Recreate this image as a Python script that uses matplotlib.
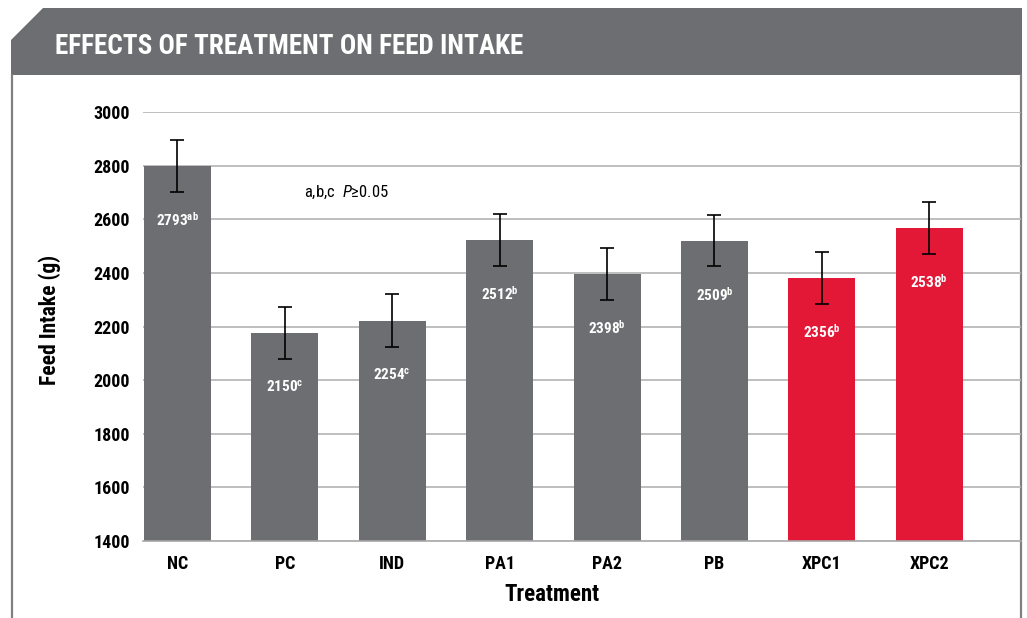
# Feed intake by treatment - bar chart with error bars
import matplotlib
matplotlib.use('Agg')
import matplotlib.pyplot as plt
from matplotlib import font_manager as fm
from matplotlib.patches import Polygon

# data
treatments = ['NC', 'PC', 'IND', 'PA1', 'PA2', 'PB', 'XPC1', 'XPC2']
intake = [2800, 2174, 2222, 2522, 2395, 2520, 2380, 2566]
err = [97, 97, 99, 96, 96, 96, 97, 97]
label_num = ['2793', '2150', '2254', '2512', '2398', '2509', '2356', '2538']
label_sup = ['ab', 'c', 'c', 'b', 'b', 'b', 'b', 'b']
yticks = [1400, 1600, 1800, 2000, 2200, 2400, 2600, 2800, 3000]

gray = '#6d6e71'
red = '#e31837'
bar_colors = [gray] * 6 + [red] * 2

# pick a condensed font if one is around
names = {f.name for f in fm.fontManager.ttflist}
FONT = 'DejaVu Sans'
for cand in ['Liberation Sans Narrow', 'DejaVu Sans Condensed', 'Roboto Condensed',
             'Open Sans Condensed', 'Liberation Sans']:
    if cand in names:
        FONT = cand
        break

plt.rcParams['font.family'] = [FONT, 'DejaVu Sans']
plt.rcParams['mathtext.fontset'] = 'custom'
plt.rcParams['mathtext.rm'] = FONT
plt.rcParams['mathtext.it'] = FONT + ':italic'
plt.rcParams['mathtext.bf'] = FONT + ':bold'

W, H = 1027, 618
fig = plt.figure(figsize=(W / 100, H / 100), dpi=100)

# background: header band and frame, in pixel coords
bg = fig.add_axes([0, 0, 1, 1], zorder=-1)
bg.set_xlim(0, W)
bg.set_ylim(H, 0)
bg.axis('off')
bg.add_patch(Polygon([(43, 8), (1022, 8), (1022, 75), (11, 75), (11, 40)],
                     closed=True, facecolor=gray, edgecolor='none'))
bg.plot([12, 12], [75, H], color='#808083', lw=1.6)
bg.plot([1021, 1021], [75, H], color='#808083', lw=1.6)
bg.text(55, 46, 'EFFECTS OF TREATMENT ON FEED INTAKE', color='white',
        fontsize=19.5, fontweight='bold', ha='left', va='center')

# main axes
left, right, top, bottom = 143, 1021, 112, 541
ax = fig.add_axes([left / W, 1 - bottom / H, (right - left) / W, (bottom - top) / H])
ax.set_facecolor('none')

x = list(range(len(treatments)))
ax.bar(x, intake, width=0.624, color=bar_colors, zorder=2)
ax.errorbar(x, intake, yerr=err, fmt='none', ecolor='black', elinewidth=1.2,
            capsize=5, capthick=1.2, zorder=3)

for i in x:
    ax.text(i, intake[i] - 200, label_num[i] + r'$^{\mathbf{' + label_sup[i] + '}}$',
            color='white', fontsize=11, fontweight='bold', ha='center', va='center',
            zorder=4)

ax.text(1.57, 2700, r'a,b,c  $P$' + '\u22650.05', fontsize=12, ha='center',
        va='center', color='black')

ax.set_ylim(1400, 3000)
ax.set_xlim(-0.321, 7.854)
ax.set_yticks(yticks)
ax.set_xticks(x)
ax.set_xticklabels(treatments)
for g in yticks[1:]:
    ax.axhline(g, color='#b3b3b3', lw=1.2, zorder=1)

for s in ['top', 'right', 'left']:
    ax.spines[s].set_visible(False)
ax.spines['bottom'].set_color('#a6a6a6')
ax.spines['bottom'].set_linewidth(1.2)
ax.tick_params(axis='both', length=0, labelsize=13)
ax.tick_params(axis='y', pad=9.5)
ax.tick_params(axis='x', pad=10)
for lbl in ax.get_xticklabels() + ax.get_yticklabels():
    lbl.set_fontweight('bold')

ax.set_xlabel('Treatment', fontsize=16.5, fontweight='bold')
ax.xaxis.set_label_coords(0.466, -0.124)
ax.xaxis.label.set_va('center')
ax.set_ylabel('Feed Intake (g)', fontsize=15.5, fontweight='bold')
ax.yaxis.set_label_coords(-0.106, 0.515)
ax.yaxis.label.set_va('center')

fig.savefig('out.png', dpi=100)
